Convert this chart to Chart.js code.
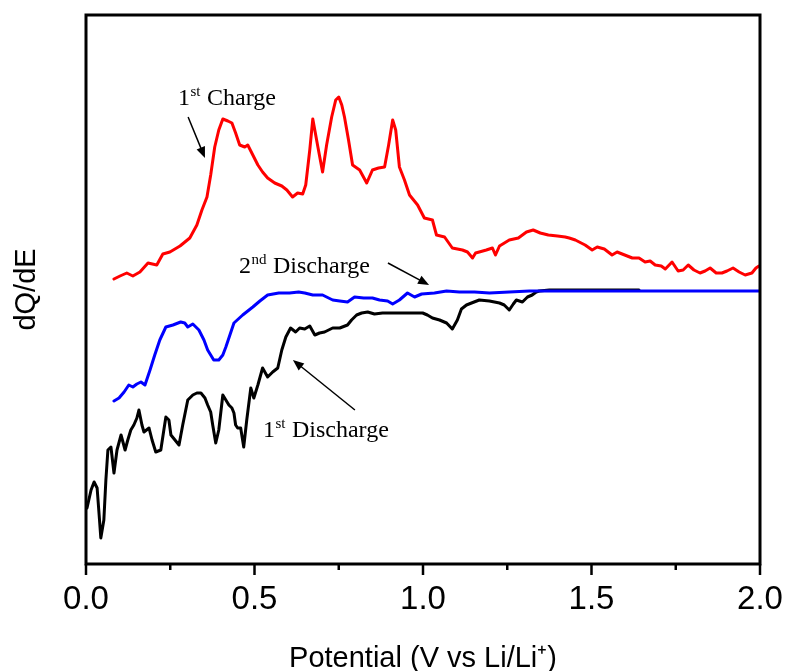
<!DOCTYPE html>
<html><head><meta charset="utf-8">
<script src="https://cdn.jsdelivr.net/npm/chart.js@4.4.1/dist/chart.umd.min.js"></script>
<style>html,body{margin:0;padding:0;background:#fff;}</style>
</head><body>
<canvas id="c" width="786" height="671"></canvas>
<script>
// ---- data (Potential in V, dQ/dE in arbitrary units) ----
const chargeV = [0.083,0.101,0.121,0.139,0.160,0.184,0.210,0.228,0.249,0.279,0.308,0.329,0.344,0.359,0.370,0.382,0.394,0.406,0.421,0.433,0.444,0.456,0.471,0.480,0.495,0.510,0.524,0.539,0.560,0.581,0.596,0.613,0.628,0.643,0.652,0.664,0.673,0.687,0.702,0.714,0.729,0.741,0.750,0.759,0.767,0.779,0.791,0.812,0.833,0.850,0.868,0.886,0.898,0.910,0.919,0.930,0.945,0.960,0.984,1.004,1.028,1.040,1.064,1.087,1.117,1.132,1.147,1.156,1.167,1.188,1.206,1.215,1.227,1.256,1.283,1.307,1.327,1.348,1.372,1.399,1.422,1.434,1.452,1.481,1.502,1.517,1.538,1.561,1.576,1.591,1.621,1.641,1.659,1.674,1.689,1.707,1.719,1.739,1.757,1.772,1.787,1.804,1.822,1.837,1.852,1.870,1.887,1.902,1.920,1.938,1.956,1.976,1.988,1.997];
const chargeQ = [285,288,291,288,292,301,299,310,312,318,326,339,354,367,389,417,434,445,443,441,431,419,417,419,409,399,392,386,381,378,374,367,371,370,379,414,445,419,392,419,447,464,467,459,447,424,399,394,381,394,396,397,419,444,434,397,384,369,359,346,344,329,327,316,314,312,306,311,312,314,316,309,318,324,326,332,334,331,329,328,327,326,324,319,314,317,315,309,312,310,306,306,302,303,299,298,295,302,293,294,299,294,291,293,296,291,291,293,296,292,289,291,296,298];

const discharge2V = [0.083,0.098,0.113,0.127,0.139,0.151,0.163,0.175,0.190,0.204,0.219,0.237,0.258,0.281,0.293,0.302,0.317,0.335,0.350,0.361,0.379,0.394,0.406,0.415,0.427,0.439,0.465,0.495,0.516,0.539,0.572,0.604,0.631,0.649,0.673,0.702,0.732,0.753,0.776,0.797,0.824,0.850,0.871,0.895,0.910,0.930,0.954,0.975,0.996,1.034,1.070,1.108,1.153,1.197,1.256,1.316,1.404,1.523,1.641,1.760,1.879,2.000];
const discharge2Q = [163,166,172,179,177,180,182,179,194,209,224,237,239,242,241,237,240,234,224,214,204,204,209,217,229,241,249,257,263,269,271,271,272,271,269,269,264,263,262,267,266,266,264,263,260,264,271,267,270,271,273,272,272,271,272,273,273,273,273,273,273,273];

const discharge1V = [0.003,0.015,0.024,0.033,0.039,0.044,0.053,0.059,0.065,0.074,0.083,0.092,0.104,0.116,0.124,0.133,0.142,0.151,0.157,0.166,0.172,0.187,0.196,0.207,0.222,0.231,0.237,0.246,0.252,0.264,0.276,0.287,0.302,0.317,0.329,0.341,0.353,0.361,0.370,0.376,0.385,0.394,0.406,0.415,0.424,0.433,0.439,0.444,0.450,0.459,0.468,0.477,0.489,0.498,0.510,0.524,0.539,0.554,0.569,0.581,0.593,0.607,0.622,0.634,0.649,0.664,0.679,0.693,0.708,0.732,0.753,0.776,0.788,0.803,0.818,0.836,0.856,0.880,0.910,0.939,0.969,0.999,1.013,1.028,1.049,1.070,1.087,1.102,1.114,1.129,1.144,1.167,1.197,1.227,1.241,1.256,1.268,1.277,1.295,1.310,1.324,1.336,1.345,1.375,1.404,1.464,1.523,1.582,1.641];
const discharge1Q = [56,74,82,76,49,26,44,84,114,117,91,114,129,114,124,134,139,146,154,139,132,136,124,112,114,134,147,144,129,124,119,139,164,169,171,171,166,159,152,139,121,134,169,164,159,156,151,139,136,136,117,144,176,166,179,196,187,192,196,214,227,236,232,236,235,238,229,231,232,236,236,239,244,249,251,252,250,251,251,251,251,251,249,246,244,241,235,244,255,259,261,264,263,261,259,254,260,264,262,267,269,272,273,274,274,274,274,274,274];

const xTickLabels = ['0.0','0.5','1.0','1.5','2.0'];
const xTickValues = [0,0.25,0.5,0.75,1.0,1.25,1.5,1.75,2.0];

// annotations: [number, superscript, rest, labelX, labelY, arrowFromX, arrowFromY, arrowToX, arrowToY]
const notes = [
  ['1','st','Charge',0.273,459,0.303,447,0.353,406],
  ['2','nd','Discharge',0.454,291,0.896,301,1.018,279],
  ['1','st','Discharge',0.525,127,0.798,154,0.614,204]
];

const zip = (xs, ys) => xs.map((v, i) => ({x: v, y: ys[i]}));

const SANS = '"Liberation Sans", Arial, sans-serif';
const SERIF = '"Liberation Serif", "Times New Roman", serif';

const framePlugin = {
  id: 'frame',
  afterDatasetsDraw(chart) {
    const {ctx, chartArea: a, scales: {x, y}} = chart;
    ctx.save();
    ctx.strokeStyle = '#000';
    ctx.lineWidth = 3;
    ctx.strokeRect(a.left, a.top, a.right - a.left, a.bottom - a.top);
    // ticks
    ctx.lineWidth = 2.5;
    xTickValues.forEach(v => {
      const px = x.getPixelForValue(v);
      const major = Math.abs(v * 2 - Math.round(v * 2)) < 1e-6;
      ctx.beginPath();
      ctx.moveTo(px, a.bottom);
      ctx.lineTo(px, a.bottom + (major ? 11 : 6));
      ctx.stroke();
    });
    // annotations
    ctx.fillStyle = '#000';
    ctx.textBaseline = 'alphabetic';
    ctx.textAlign = 'left';
    notes.forEach(n => {
      const [num, sup, rest, lx, ly, fx, fy, tx, ty] = n;
      let px = x.getPixelForValue(lx), py = y.getPixelForValue(ly);
      ctx.font = '24px ' + SERIF;
      ctx.fillText(num, px, py);
      let w = ctx.measureText(num).width;
      ctx.font = '15px ' + SERIF;
      ctx.fillText(sup, px + w + 0.5, py - 9);
      w += ctx.measureText(sup).width + 1;
      ctx.font = '24px ' + SERIF;
      ctx.fillText(' ' + rest, px + w, py);
      // arrow
      const x1 = x.getPixelForValue(fx), y1 = y.getPixelForValue(fy);
      const x2 = x.getPixelForValue(tx), y2 = y.getPixelForValue(ty);
      const ang = Math.atan2(y2 - y1, x2 - x1);
      const hl = 11, hw = 4.5;
      ctx.lineWidth = 1.5;
      ctx.beginPath();
      ctx.moveTo(x1, y1);
      ctx.lineTo(x2 - Math.cos(ang) * hl * 0.8, y2 - Math.sin(ang) * hl * 0.8);
      ctx.stroke();
      ctx.beginPath();
      ctx.moveTo(x2, y2);
      ctx.lineTo(x2 - Math.cos(ang) * hl - Math.sin(ang) * hw, y2 - Math.sin(ang) * hl + Math.cos(ang) * hw);
      ctx.lineTo(x2 - Math.cos(ang) * hl + Math.sin(ang) * hw, y2 - Math.sin(ang) * hl - Math.cos(ang) * hw);
      ctx.closePath();
      ctx.fill();
    });
    ctx.restore();
  }
};

new Chart(document.getElementById('c'), {
  type: 'line',
  data: {
    datasets: [
      {label: '2nd Discharge', data: zip(discharge2V, discharge2Q), borderColor: '#0000ff', order: 0},
      {label: '1st Discharge', data: zip(discharge1V, discharge1Q), borderColor: '#000000', order: 1},
      {label: '1st Charge', data: zip(chargeV, chargeQ), borderColor: '#ff0000', order: 2}
    ]
  },
  options: {
    responsive: false,
    animation: false,
    devicePixelRatio: 1,
    layout: {padding: {top: 15, right: 26, left: 0, bottom: 0}},
    elements: {
      line: {borderWidth: 3, tension: 0, fill: false, borderJoinStyle: 'round', borderCapStyle: 'round'},
      point: {radius: 0, hoverRadius: 0}
    },
    plugins: {legend: {display: false}, tooltip: {enabled: false}},
    scales: {
      x: {
        type: 'linear', min: 0, max: 2,
        grid: {display: false, drawTicks: false},
        border: {display: false},
        afterFit: s => { s.height = 107; s.paddingLeft = 0; s.paddingRight = 0; },
        afterBuildTicks: s => { s.ticks = xTickLabels.map(t => ({value: parseFloat(t)})); },
        ticks: {
          autoSkip: false, maxRotation: 0, padding: 16, color: '#000',
          font: {family: SANS, size: 33},
          callback: v => xTickLabels.find(t => parseFloat(t) === v)
        },
        title: {
          display: true, text: 'Potential (V vs Li/Li⁺)', color: '#000',
          font: {family: SANS, size: 29, lineHeight: 1},
          padding: {top: 0, bottom: -2}
        }
      },
      y: {
        type: 'linear', min: 0, max: 549,
        grid: {display: false, drawTicks: false},
        border: {display: false},
        ticks: {display: false},
        afterFit: s => { s.width = 86; },
        title: {
          display: true, text: 'dQ/dE', color: '#000',
          font: {family: SANS, size: 29, lineHeight: 1},
          padding: {top: 12, bottom: 0}
        }
      }
    }
  },
  plugins: [framePlugin]
});
</script>
</body></html>
